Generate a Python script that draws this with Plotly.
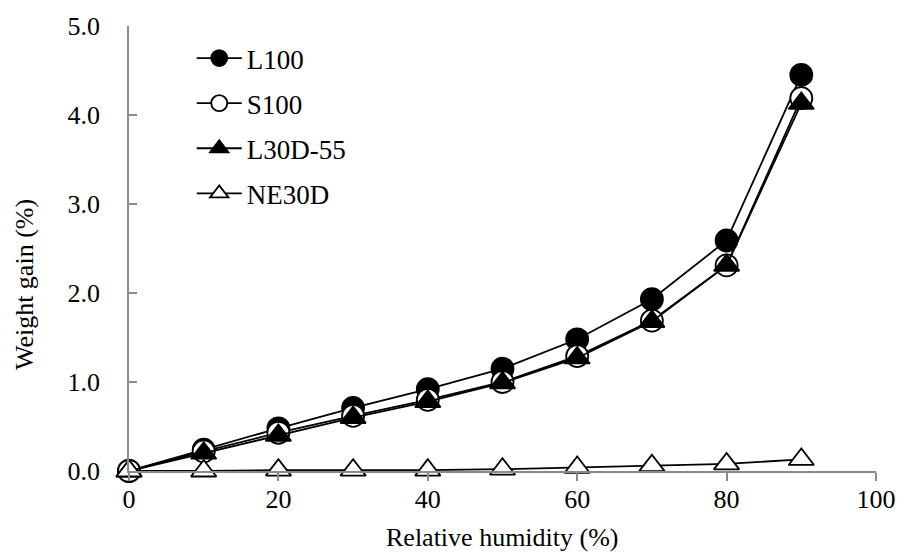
import plotly.graph_objects as go

# Relative humidity steps (%)
rh = [0, 10, 20, 30, 40, 50, 60, 70, 80, 90]

# Weight gain (%) of each film
l100 = [0.00, 0.24, 0.48, 0.71, 0.92, 1.15, 1.48, 1.93, 2.59, 4.45]
s100 = [0.00, 0.22, 0.43, 0.62, 0.80, 1.00, 1.29, 1.69, 2.31, 4.19]
l30d55 = [0.00, 0.20, 0.40, 0.60, 0.78, 0.99, 1.27, 1.68, 2.31, 4.13]
ne30d = [0.00, 0.00, 0.01, 0.01, 0.01, 0.02, 0.04, 0.06, 0.08, 0.13]

series_names = ["L100", "S100", "L30D-55", "NE30D"]
x_ticks = [0, 20, 40, 60, 80, 100]
y_ticks = [0, 1, 2, 3, 4, 5]
y_tick_labels = ["0.0", "1.0", "2.0", "3.0", "4.0", "5.0"]

FONT = "Liberation Serif, Times New Roman, serif"
AXIS_GRAY = "#8a8a8a"

styles = [
    dict(symbol="circle", color="black"),
    dict(symbol="circle", color="white"),
    dict(symbol="triangle-up", color="black"),
    dict(symbol="triangle-up", color="white"),
]

fig = go.Figure()
for name, ys, st in zip(series_names, [l100, s100, l30d55, ne30d], styles):
    fig.add_trace(go.Scatter(
        x=rh, y=ys, name=name, mode="lines+markers",
        legendgroup=name,
        line=dict(color="black", width=1.8),
        marker=dict(symbol=st["symbol"], size=22, color=st["color"],
                    line=dict(color="black", width=1.8)),
        cliponaxis=False,
    ))

fig.update_layout(
    width=897, height=553,
    margin=dict(l=129, r=21, t=26, b=82, autoexpand=False),
    paper_bgcolor="white", plot_bgcolor="white",
    font=dict(family=FONT, color="black", size=26),
    showlegend=True,
    legend=dict(
        x=0.084, y=0.982, xanchor="left", yanchor="top",
        bgcolor="rgba(0,0,0,0)", font=dict(size=27),
        tracegroupgap=7, itemwidth=45,
    ),
    xaxis=dict(
        range=[0, 100], tickvals=x_ticks, ticks="outside", ticklen=8,
        tickcolor=AXIS_GRAY, tickwidth=1.5,
        showline=True, linecolor=AXIS_GRAY, linewidth=1.5,
        showgrid=False, zeroline=False, automargin=False,
        tickfont=dict(size=26), ticklabelstandoff=-4,
    ),
    yaxis=dict(
        range=[0, 5], tickvals=y_ticks, ticktext=y_tick_labels,
        ticks="inside", ticklen=8,
        tickcolor=AXIS_GRAY, tickwidth=1.5,
        showline=True, linecolor=AXIS_GRAY, linewidth=1.5,
        showgrid=False, zeroline=False, automargin=False,
        tickfont=dict(size=26), ticklabelstandoff=22,
    ),
    annotations=[
        dict(text="Relative humidity (%)", xref="paper", yref="paper",
             x=0.5, y=-0.150, xanchor="center", yanchor="middle",
             showarrow=False, font=dict(size=26)),
        dict(text="Weight gain (%)", xref="paper", yref="paper",
             x=-0.1406, y=0.42, xanchor="center", yanchor="middle",
             textangle=-90, showarrow=False, font=dict(size=26)),
    ],
)

fig.write_html("out.html")
